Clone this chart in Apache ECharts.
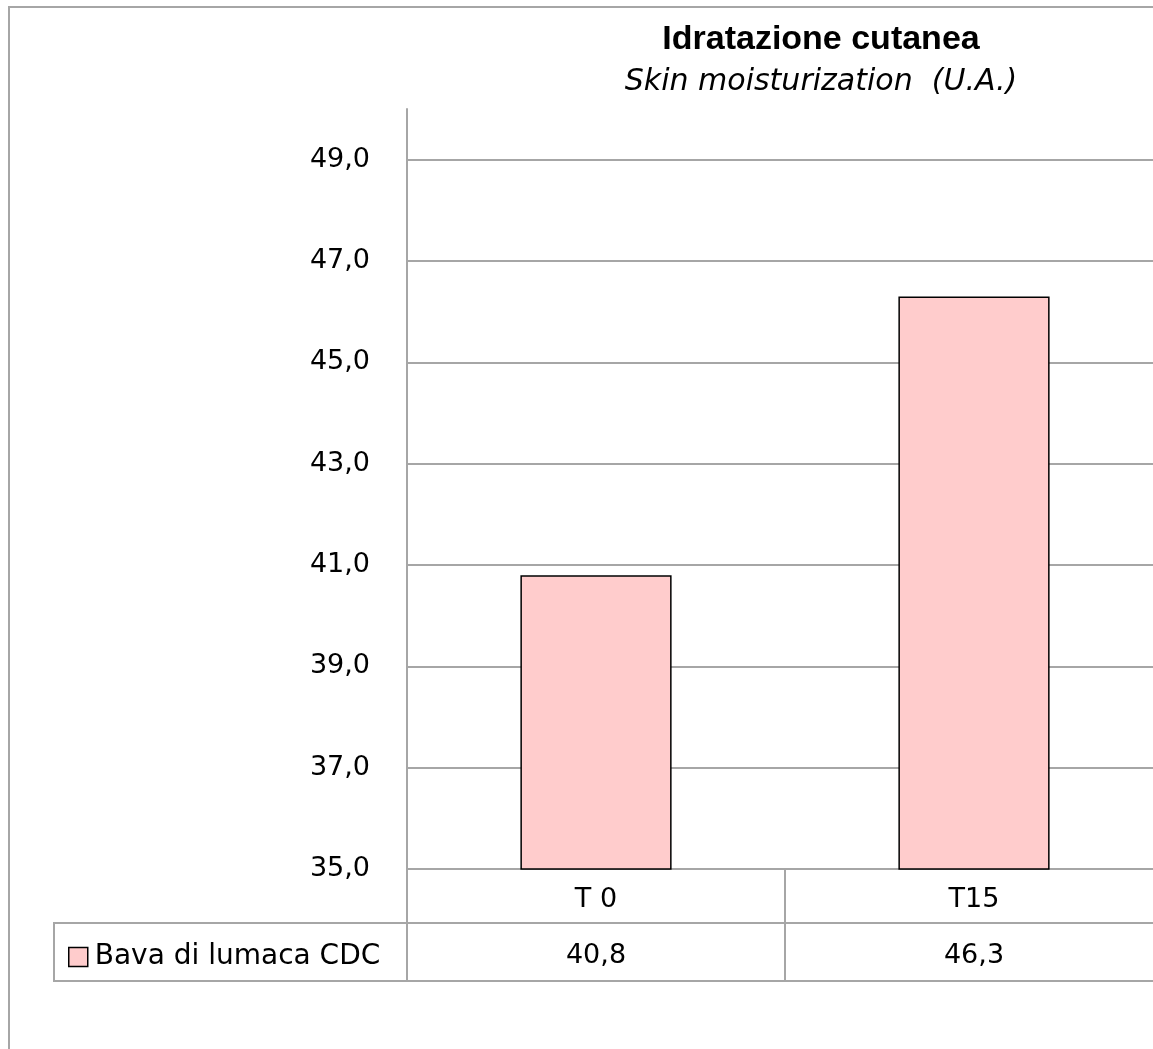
<!DOCTYPE html>
<html>
<head>
<meta charset="utf-8">
<script src="https://cdn.jsdelivr.net/npm/echarts@6/dist/echarts.min.js"></script>
<style>
html,body{margin:0;padding:0;background:#fff;}
#chart{width:1153px;height:1049px;}
</style>
</head>
<body>
<div id="chart"></div>
<script>
const titleText = 'Idratazione cutanea';
const subtitleText = 'Skin moisturization  (U.A.)';
const categories = ['T 0', 'T15'];
const seriesName = 'Bava di lumaca CDC';
const values = [40.8, 46.3];
const yMin = 35, yMax = 50, yInterval = 2;

const fmt = v => v.toFixed(1).replace('.', ',');
const GRAY = '#a6a6a6';
const FONT = 'DejaVu Sans';

const chart = echarts.init(document.getElementById('chart'), null, {renderer: 'canvas'});
chart.setOption({
  animation: false,
  backgroundColor: '#fff',
  title: {
    text: titleText,
    subtext: subtitleText,
    left: 816,
    top: 18,
    textAlign: 'center',
    itemGap: 10,
    textStyle: {fontFamily: 'Liberation Sans', fontWeight: 'bold', fontSize: 34, color: '#000'},
    subtextStyle: {fontFamily: FONT, fontStyle: 'italic', fontSize: 30, color: '#000'}
  },
  legend: {
    data: [seriesName],
    left: 68,
    top: 943,
    padding: 0,
    icon: 'rect',
    itemWidth: 19,
    itemHeight: 19,
    itemGap: 0,
    textStyle: {fontFamily: FONT, fontSize: 28, color: '#000', padding: [0, 0, 0, 2]},
    itemStyle: {borderColor: '#000', borderWidth: 1.5}
  },
  grid: {left: 407, top: 109, width: 756, height: 760, containLabel: false, outerBoundsMode: 'none'},
  xAxis: [
    {
      type: 'category', data: categories, position: 'bottom',
      axisLine: {show: true, lineStyle: {color: GRAY, width: 2}},
      axisTick: {show: true, interval: 0, alignWithLabel: false, length: 54, lineStyle: {color: GRAY, width: 2}},
      axisLabel: {interval: 0, margin: 17, fontFamily: FONT, fontSize: 27, color: '#000'},
      splitLine: {show: false}
    },
    {
      type: 'category', data: categories, position: 'bottom', offset: 54,
      axisLine: {show: true, lineStyle: {color: GRAY, width: 2}},
      axisTick: {show: true, interval: 0, alignWithLabel: false, length: 58, lineStyle: {color: GRAY, width: 2}},
      axisLabel: {interval: 0, margin: 19, fontFamily: FONT, fontSize: 27, color: '#000',
        formatter: (v, i) => fmt(values[i])},
      splitLine: {show: false}
    },
    {
      type: 'category', data: categories, position: 'bottom', offset: 112,
      axisLine: {show: true, lineStyle: {color: GRAY, width: 2}},
      axisTick: {show: false},
      axisLabel: {show: false},
      splitLine: {show: false}
    }
  ],
  yAxis: {
    type: 'value', min: yMin, max: yMax, interval: yInterval,
    axisLine: {show: true, lineStyle: {color: GRAY, width: 2}},
    axisTick: {show: false},
    axisLabel: {showMaxLabel: false, margin: 37, fontFamily: FONT, fontSize: 27, color: '#000', formatter: fmt},
    splitLine: {show: true, showMaxLine: false, lineStyle: {color: GRAY, width: 2}}
  },
  series: [{
    name: seriesName,
    type: 'bar',
    xAxisIndex: 0,
    data: values,
    barWidth: '40%',
    itemStyle: {color: '#ffcccc', borderColor: '#000', borderWidth: 1.5}
  }],
  graphic: [
    {type: 'rect', silent: true, shape: {x: 9, y: 7, width: 1300, height: 1200},
      style: {fill: null, stroke: GRAY, lineWidth: 2}},
    {type: 'rect', silent: true, shape: {x: 54, y: 923, width: 353, height: 58},
      style: {fill: null, stroke: GRAY, lineWidth: 2}}
  ]
});
</script>
</body>
</html>
